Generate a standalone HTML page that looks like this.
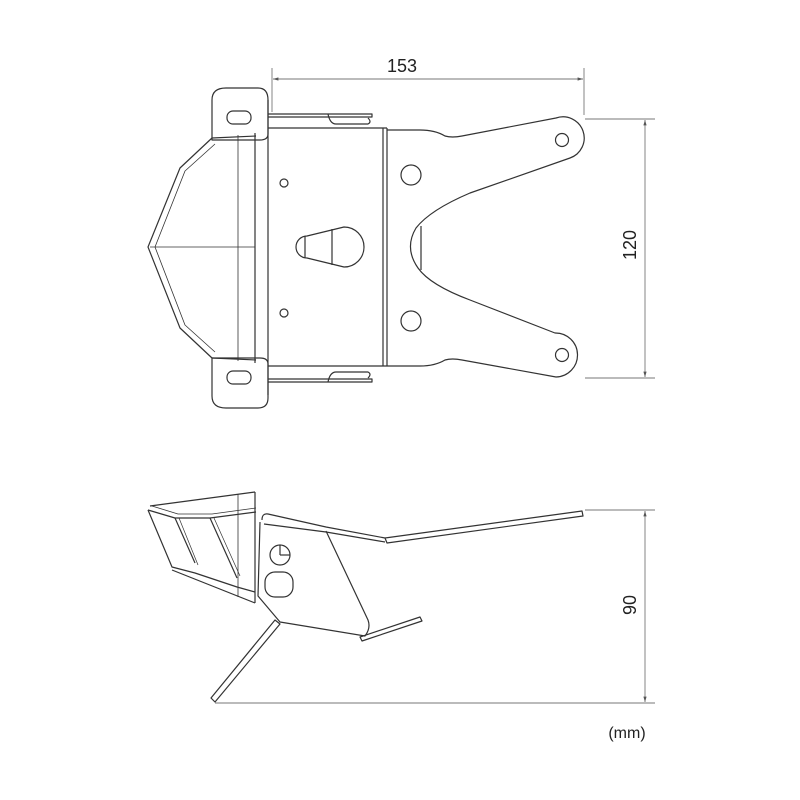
<!DOCTYPE html>
<html><head><meta charset="utf-8"><style>
html,body{margin:0;padding:0;background:#fff;width:800px;height:800px;overflow:hidden}
svg{display:block}
text{font-family:"Liberation Sans",Arial,sans-serif;fill:#222}
</style></head><body>
<svg width="800" height="800" viewBox="0 0 800 800" xmlns="http://www.w3.org/2000/svg">
<defs>
<marker id="a" viewBox="0 0 10 10" refX="10" refY="5" markerWidth="6" markerHeight="6" orient="auto-start-reverse"><path d="M0,2 L10,5 L0,8 z" fill="#555"/></marker>
</defs>
<g fill="none" stroke="#777" stroke-width="0.9">
<line x1="272" y1="68" x2="272" y2="112"/>
<line x1="584" y1="68" x2="584" y2="115"/>
<line x1="273" y1="79" x2="583" y2="79" marker-start="url(#a)" marker-end="url(#a)"/>
<line x1="585" y1="119" x2="655" y2="119"/>
<line x1="585" y1="378" x2="655" y2="378"/>
<line x1="645" y1="120" x2="645" y2="377" marker-start="url(#a)" marker-end="url(#a)"/>
<line x1="585" y1="510" x2="655" y2="510"/>
<line x1="215" y1="703" x2="655" y2="703"/>
<line x1="645" y1="511" x2="645" y2="702" marker-start="url(#a)" marker-end="url(#a)"/>
</g>
<text x="402" y="72" font-size="18" text-anchor="middle">153</text>
<text transform="translate(636,245) rotate(-90)" font-size="18" text-anchor="middle">120</text>
<text transform="translate(636,605) rotate(-90)" font-size="18" text-anchor="middle">90</text>
<text x="627" y="738" font-size="16" text-anchor="middle">(mm)</text>

<g fill="none" stroke="#333" stroke-width="1.2" stroke-linejoin="round">
<path d="M226,88 H258 Q268,88 268,100 V134 Q268,140 260,140 H212 V100 Q212,88 226,88 Z"/>
<rect x="227" y="111" width="24" height="13" rx="6"/>
<path d="M212,358 H260 Q268,358 268,364 V398 Q268,408 258,408 H226 Q212,408 212,396 Z"/>
<rect x="227" y="371" width="24" height="13" rx="6"/>
<path d="M212,138 L180,168 L148,247 L180,328 L212,358"/>
<path d="M215,144 L185,171 L155,247 L185,325 L215,352" stroke-width="0.8"/>
<line x1="212" y1="138" x2="256" y2="136"/><line x1="212" y1="358" x2="256" y2="360"/>
<line x1="238" y1="135" x2="238" y2="361" stroke-width="0.8"/>
<line x1="255" y1="133" x2="255" y2="363"/>
<line x1="150" y1="247" x2="255" y2="247" stroke-width="0.8"/>
<line x1="268" y1="100" x2="268" y2="395"/>
<line x1="268" y1="128" x2="387" y2="128"/>
<line x1="268" y1="366" x2="387" y2="366"/>
<path d="M268,114 H372 V117 H268"/><path d="M328,114 Q330,124 336,124 H368 Q372,122 368,118"/>
<path d="M268,382 H372 V379 H268"/><path d="M328,382 Q330,372 336,372 H368 Q372,374 368,378"/>
<circle cx="284" cy="183" r="4"/><circle cx="284" cy="313" r="4"/>
<path d="M307,236 L344,227 A20,20 0 0 1 344,267 L307,258 A11,11 0 0 1 307,236 Z"/>
<line x1="305" y1="236" x2="305" y2="258"/><line x1="332" y1="229" x2="332" y2="265"/>
<line x1="383" y1="128" x2="383" y2="366"/><line x1="387" y1="128" x2="387" y2="366"/>
<path d="M387,130 H420 Q435,130 445,136 Q452,138 462,136 L556,118 A21,21 0 0 1 570,158 L470,193 Q430,210 416,228 Q404,248 418,268 Q430,285 470,300 L555,333 A21,21 0 0 1 556,377 L462,360 Q452,358 445,360 Q435,366 420,366 H387"/>
<line x1="421" y1="226" x2="421" y2="270"/>
<circle cx="562" cy="140" r="6.5"/><circle cx="562" cy="355" r="6.5"/>
<circle cx="411" cy="175" r="10"/><circle cx="411" cy="321" r="10"/>

<path d="M150,506 L255,492"/>
<line x1="238" y1="494" x2="238" y2="597" stroke-width="0.8"/>
<line x1="255" y1="492" x2="255" y2="603"/>
<path d="M148,510 L175,518 L210,518 L256,512"/>
<path d="M152,506 L178,514 L212,514 L256,508" stroke-width="0.8"/>
<path d="M148,510 L172,567 L195,573 L237,587 L255,592"/>
<path d="M172,570 L255,603"/>
<path d="M175,518 L195,563"/><path d="M179,518 L198,565" stroke-width="0.7"/>
<path d="M210,518 L237,578"/><path d="M214,518 L240,576" stroke-width="0.7"/>
<path d="M262,520 Q262,513 268,514 L326,527 L385,538"/>
<path d="M264,524 L326,532 L385,542"/>
<path d="M326,531 L368,620 Q371,628 365,636 L280,622 L258,596 L260,522"/>
<circle cx="280" cy="555" r="10"/><line x1="280" y1="545" x2="280" y2="555"/><line x1="280" y1="555" x2="290" y2="555"/>
<rect x="265" y="572" width="28" height="25" rx="10"/>
<path d="M385,538 L582,511 L583,516 L387,543 Z"/>
<path d="M360,637 L420,617 L422,621 L362,641 Z"/>
<path d="M275,620 L211,698 L215,702 L280,624 Z"/>
</g>
</svg>
</body></html>
